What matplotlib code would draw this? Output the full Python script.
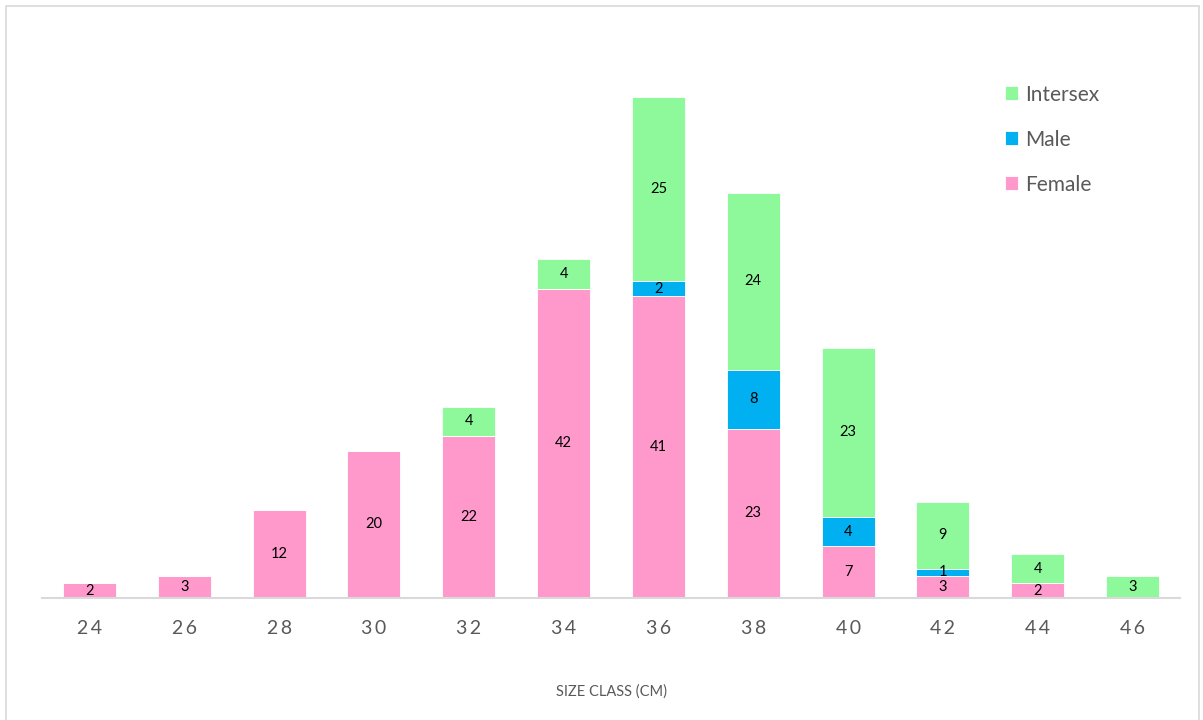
import numpy as np
import matplotlib.pyplot as plt
from matplotlib.patches import Rectangle

# size classes and counts per sex
sizes = ["24", "26", "28", "30", "32", "34", "36", "38", "40", "42", "44", "46"]
female = [2, 3, 12, 20, 22, 42, 41, 23, 7, 3, 2, 0]
male = [0, 0, 0, 0, 0, 0, 2, 8, 4, 1, 0, 0]
intersex = [0, 0, 0, 0, 4, 4, 25, 24, 23, 9, 4, 3]

pink = "#FF99CC"
blue = "#00B0F0"
green = "#8EF99B"
gray = "#595959"

plt.rcParams["font.family"] = ["Lato", "DejaVu Sans"]

fig = plt.figure(figsize=(12.03, 7.2), dpi=100)
ax = fig.add_axes([42 / 1203, 122 / 720, 1138 / 1203, 589 / 720])

x = np.arange(len(sizes))
w = 0.56
female = np.array(female)
male = np.array(male)
intersex = np.array(intersex)

b1 = ax.bar(x, female, w, color=pink, edgecolor="white", linewidth=0.6, label="Female")
b2 = ax.bar(x, male, w, bottom=female, color=blue, edgecolor="white", linewidth=0.6, label="Male")
b3 = ax.bar(x, intersex, w, bottom=female + male, color=green, edgecolor="white", linewidth=0.6, label="Intersex")

# value labels in the middle of each segment
for vals, base in [(female, np.zeros(len(x))), (male, female), (intersex, female + male)]:
    for i in range(len(x)):
        if vals[i] > 0:
            ax.text(x[i], base[i] + vals[i] / 2, str(vals[i]), ha="center", va="center",
                    fontsize=10.5, color="black")

ax.set_xlim(-0.5, 11.5)
ax.set_ylim(0, 80)
for s in ["top", "right", "left"]:
    ax.spines[s].set_visible(False)
ax.spines["bottom"].set_color("#D9D9D9")
ax.spines["bottom"].set_linewidth(1.5)
ax.set_yticks([])
ax.set_xticks(x)
ax.set_xticklabels(["\u2009".join(s) for s in sizes], fontsize=14, color=gray)
ax.tick_params(axis="x", length=0, pad=16)
ax.set_xlabel("SIZE CLASS (CM)", fontsize=10.5, color=gray, labelpad=34)

leg = ax.legend(handles=[b3, b2, b1], loc="upper left", bbox_to_anchor=(986 / 1203, 1 - 66 / 720),
                bbox_transform=fig.transFigure, frameon=False, fontsize=15,
                handlelength=0.65, handleheight=0.65, handletextpad=0.35, labelspacing=1.2)
for t in leg.get_texts():
    t.set_color(gray)

# light border round the chart area
fig.patches.append(Rectangle((6 / 1203, -0.01), 1193 / 1203, 1 - 6 / 720 + 0.01,
                             transform=fig.transFigure, fill=False,
                             edgecolor="#D9D9D9", linewidth=1.2))

fig.savefig("out.png", dpi=100)
